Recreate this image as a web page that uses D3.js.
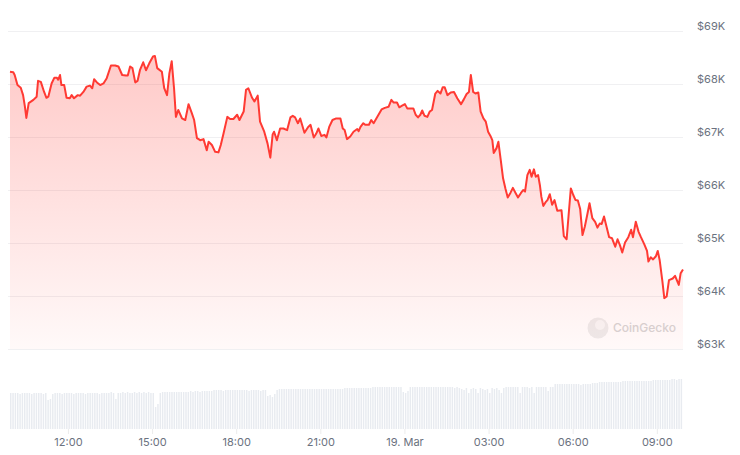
<!DOCTYPE html>
<html>
<head>
<meta charset="utf-8">
<script src="https://cdn.jsdelivr.net/npm/d3@7"></script>
<style>
  body { margin: 0; background: #ffffff; }
  svg { display: block; font-family: Inter, "Noto Sans", sans-serif; }
</style>
</head>
<body>
<script>
// price points: minutes since 18 Mar 00:00 and price in USD
var priceMinutes = [
  596,603,606,612,619,624,628,631,636,646,
  653,656,662,669,674,678,685,691,696,699,
  703,706,712,717,724,728,733,741,746,753,
  760,767,772,776,782,789,796,803,812,821,
  828,836,844,848,853,858,864,869,874,881,
  887,894,902,906,911,921,926,932,937,942,
  947,951,956,964,971,978,985,990,996,1003,
  1010,1017,1021,1028,1035,1042,1047,1053,1061,1067,
  1074,1082,1087,1096,1101,1106,1114,1119,1126,1131,
  1140,1147,1153,1158,1161,1167,1174,1181,1189,1196,
  1201,1206,1212,1217,1226,1234,1239,1246,1251,1256,
  1262,1269,1273,1279,1286,1294,1303,1308,1312,1317,
  1324,1331,1339,1342,1346,1352,1356,1364,1369,1374,
  1382,1391,1398,1406,1412,1417,1424,1429,1435,1441,
  1446,1453,1459,1464,1469,1474,1478,1483,1489,1494,
  1499,1506,1511,1517,1522,1526,1532,1539,1546,1553,
  1561,1567,1573,1578,1582,1587,1592,1598,1603,1609,
  1614,1619,1624,1628,1631,1637,1641,1646,1651,1656,
  1661,1667,1672,1678,1683,1689,1694,1698,1703,1708,
  1712,1717,1721,1726,1730,1733,1737,1742,1746,1751,
  1756,1761,1767,1776,1781,1787,1791,1796,1801,1806,
  1811,1816,1821,1826,1832,1836,1842,1848,1853,1858,
  1862,1867,1872,1878,1884,1891,1896,1901,1906,1912,
  1919,1925,1929,1935,1941,1946,1953,1959,1962,1967,
  1972,1978,1982,1986,1992,1996,2001,2006,2014,2019,
  2027,2031,2036
];
var priceValues = [
  68230,68220,68170,67980,67930,67790,67570,67360,67640,67700,
  67760,68060,68040,67850,67740,67760,68010,68120,68120,68080,
  68170,67980,67980,67740,67730,67790,67730,67790,67780,67850,
  67950,67970,67920,68090,68030,67980,68010,68110,68350,68350,
  68330,68170,68160,68160,68330,68300,68030,68060,68260,68410,
  68260,68390,68520,68530,68300,68230,67920,67790,68200,68430,
  67920,67380,67510,67350,67320,67620,67450,67320,66980,66940,
  66960,66750,66910,66850,66720,66710,66850,67070,67380,67340,
  67340,67420,67320,67480,67890,67920,67740,67670,67780,67290,
  67100,66880,66610,67050,67100,66940,67160,67160,67130,67370,
  67400,67370,67260,67350,67080,67190,67230,66990,67060,67160,
  67020,67040,66990,67190,67320,67350,67350,67160,67130,66960,
  67010,67100,67150,67110,67190,67260,67230,67230,67320,67260,
  67380,67520,67550,67570,67700,67650,67650,67560,67590,67620,
  67540,67540,67540,67420,67370,67420,67500,67400,67380,67480,
  67510,67820,67870,67820,67940,67940,67790,67840,67850,67730,
  67620,67710,67810,67850,68170,67850,67820,67840,67480,67350,
  67290,67100,67020,66940,66700,66790,66910,66570,66220,66030,
  65860,65950,66040,65940,65860,65940,66000,65970,66280,66380,
  66250,66390,66250,66280,66080,65870,65700,65770,65810,65920,
  65720,65810,65610,65620,65130,65070,65500,66030,65910,65810,
  65800,65640,65150,65310,65570,65750,65470,65400,65290,65370,
  65360,65500,65320,65110,65090,64930,65070,64960,64820,65010,
  65110,65250,65110,65400,65210,65110,64980,64850,64650,64730,
  64690,64750,64850,64680,64270,63960,63990,64300,64330,64380,
  64210,64430,64500
];

// 24h volume (billion USD), one bar per 5 minutes, one row per hour
var volumeStart = 596;
var volumeStep = 5;
var volumeValues = [
  36,36,36,36,35,36,36,36,36,35,36,36,
  36,36,35,36,29,30,35,36,36,36,35,36,
  36,36,36,35,36,36,36,36,35,36,36,36,
  36,36,35,36,36,36,36,37,36,30,36,36,
  37,36,37,36,36,37,36,37,36,37,36,37,
  36,36,22,25,36,37,37,37,37,37,37,37,
  37,37,37,37,37,38,37,38,38,37,38,38,
  38,38,38,39,39,39,39,38,39,39,39,39,
  39,39,39,39,39,39,38,39,39,39,39,38,
  39,39,33,34,32,35,39,40,40,40,40,40,
  40,40,40,40,40,40,40,40,40,40,40,40,
  40,40,40,40,40,40,40,40,40,40,40,41,
  41,41,41,41,41,41,41,41,41,41,41,42,
  42,42,42,42,42,42,42,42,42,42,42,42,
  37,36,38,42,42,42,42,42,42,42,42,42,
  42,42,42,42,42,42,42,42,42,42,41,42,
  41,40,39,41,36,40,41,40,36,41,40,39,
  40,36,41,40,41,39,36,41,42,42,42,42,
  42,42,36,42,42,42,41,42,36,42,42,42,
  42,42,38,42,42,45,45,45,45,45,45,45,
  45,45,45,45,44,45,45,45,45,46,46,46,
  47,47,47,47,47,47,47,47,47,47,48,48,
  48,48,48,48,48,48,48,48,48,48,48,49,
  49,49,49,49,49,49,49,50,50,49,50,50
];

var priceTicks = [63000, 64000, 65000, 66000, 67000, 68000, 69000];

// svg variables
var width = 740;
var height = 455;
var plotLeft = 10;
var plotRight = 683;
var plotTop = 31;
var plotBottom = 349;
var volumeBottom = 429;
var lineColor = "#ff3a33";

// turn minutes into dates on 18 March
function toDate(minutes) {
  return new Date(2024, 2, 18, 0, minutes);
}

var prices = priceMinutes.map(function(m, i) {
  return { date: toDate(m), value: priceValues[i] };
});

var volumes = volumeValues.map(function(v, i) {
  return { date: toDate(volumeStart + i * volumeStep), value: v };
});

var svg = d3.select("body")
  .append("svg")
  .attr("width", width)
  .attr("height", height);

// scales
var xScale = d3.scaleTime()
  .domain([toDate(priceMinutes[0]), toDate(priceMinutes[priceMinutes.length - 1])])
  .range([plotLeft, plotRight]);

var yScale = d3.scaleLinear()
  .domain([63000, 69000])
  .range([plotBottom, plotTop]);

var volScale = d3.scaleLinear()
  .domain([0, 60])
  .range([volumeBottom, volumeBottom - 60]);

// gradient for the area under the line
var grad = svg.append("defs")
  .append("linearGradient")
  .attr("id", "areaFill")
  .attr("x1", 0).attr("y1", 0)
  .attr("x2", 0).attr("y2", 1);
grad.append("stop").attr("offset", "0%")
  .attr("stop-color", lineColor).attr("stop-opacity", 0.27);
grad.append("stop").attr("offset", "100%")
  .attr("stop-color", lineColor).attr("stop-opacity", 0.03);

// horizontal grid lines
svg.append("g")
  .selectAll("line")
  .data(priceTicks)
  .enter()
  .append("line")
  .attr("x1", plotLeft - 2)
  .attr("x2", plotRight)
  .attr("y1", function(d) { return Math.round(yScale(d)) + 0.5; })
  .attr("y2", function(d) { return Math.round(yScale(d)) + 0.5; })
  .attr("stroke", "#f0f0f2")
  .attr("stroke-width", 1);

// right axis labels
svg.append("g")
  .selectAll("text")
  .data(priceTicks)
  .enter()
  .append("text")
  .attr("x", 697)
  .attr("y", function(d) { return yScale(d) - 1; })
  .attr("fill", "#6b7280")
  .style("font-size", "11px")
  .text(function(d) { return "$" + d / 1000 + "K"; });

// volume bars, thin with small gaps
var barWidth = (xScale(toDate(volumeStep)) - xScale(toDate(0))) * 0.62;
svg.append("g")
  .selectAll("rect")
  .data(volumes)
  .enter()
  .append("rect")
  .attr("x", function(d) { return xScale(d.date); })
  .attr("y", function(d) { return volScale(d.value); })
  .attr("width", barWidth)
  .attr("height", function(d) { return volumeBottom - volScale(d.value); })
  .attr("fill", "#e8ebf0");

// watermark
var mark = svg.append("g");
mark.append("circle")
  .attr("cx", 598).attr("cy", 328).attr("r", 10.5)
  .attr("fill", "#ededed");
mark.append("circle")
  .attr("cx", 600).attr("cy", 325).attr("r", 5)
  .attr("fill", "#f8f8f8");
mark.append("text")
  .attr("x", 613).attr("y", 332)
  .attr("fill", "#d6d6d6")
  .style("font-size", "12px")
  .style("font-weight", "500")
  .text("CoinGecko");

// area and line
var area = d3.area()
  .x(function(d) { return xScale(d.date); })
  .y0(plotBottom)
  .y1(function(d) { return yScale(d.value); });

var line = d3.line()
  .x(function(d) { return xScale(d.date); })
  .y(function(d) { return yScale(d.value); });

svg.append("path")
  .datum(prices)
  .attr("d", area)
  .attr("fill", "url(#areaFill)");

svg.append("path")
  .datum(prices)
  .attr("d", line)
  .attr("fill", "none")
  .attr("stroke", lineColor)
  .attr("stroke-width", 2)
  .attr("stroke-linejoin", "round");

// x axis, ticks every 3 hours
var dayFormat = d3.timeFormat("%-d. %b");
var hourFormat = d3.timeFormat("%H:%M");
var xAxis = d3.axisBottom(xScale)
  .ticks(d3.timeHour.every(3))
  .tickSize(5)
  .tickPadding(4)
  .tickFormat(function(d) {
    return d.getHours() === 0 ? dayFormat(d) : hourFormat(d);
  });

var gx = svg.append("g")
  .attr("transform", "translate(0," + volumeBottom + ")")
  .call(xAxis);
gx.select(".domain").remove();
gx.selectAll(".tick line").attr("stroke", "#ececec");
gx.selectAll(".tick text")
  .attr("fill", "#6b7280")
  .style("font-size", "11px")
  .style("font-family", "Inter, 'Noto Sans', sans-serif");
</script>
</body>
</html>
